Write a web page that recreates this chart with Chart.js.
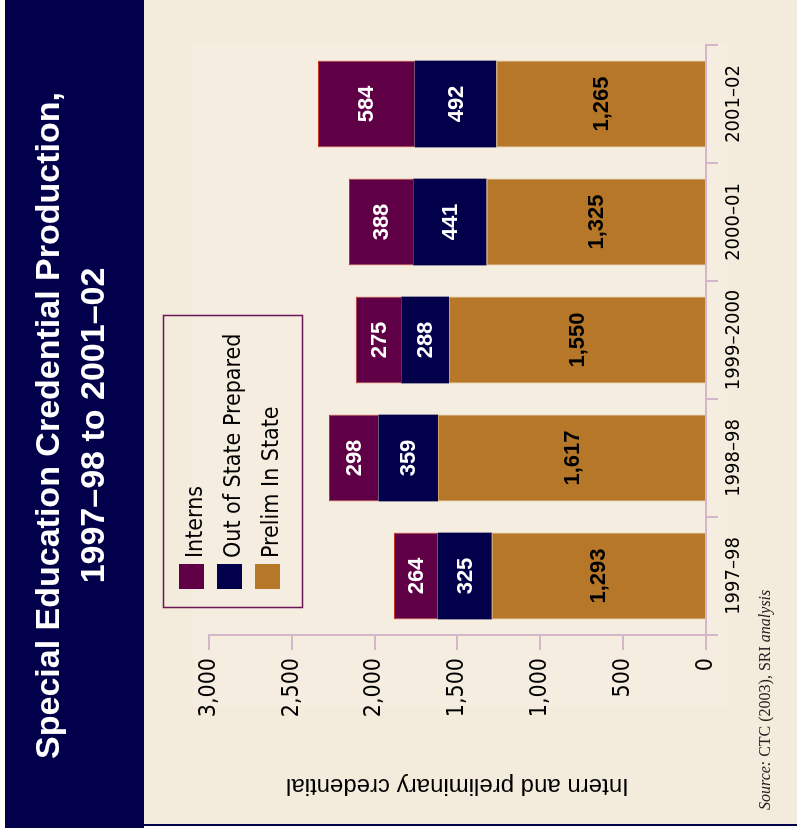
<!DOCTYPE html>
<html>
<head>
<meta charset="utf-8">
<script src="https://cdn.jsdelivr.net/npm/chart.js@4.4.1/dist/chart.umd.min.js"></script>
<style>
  html, body { margin: 0; padding: 0; background: #fff; }
  /* the chart is drawn upright and then turned a quarter turn, like the reference */
  #wrap {
    position: absolute; left: 0; top: 0;
    width: 836px; height: 797px;
    transform-origin: 0 0;
    transform: translateY(836px) rotate(-90deg);
  }
</style>
</head>
<body>
<div id="wrap"><canvas id="chart" width="836" height="797"></canvas></div>
<script>
// data
const years = ['1997\u201398', '1998\u201398', '1999\u20132000', '2000\u201301', '2001\u201302'];
const prelimInState = [1293, 1617, 1550, 1325, 1265];
const outOfState = [325, 359, 288, 441, 492];
const interns = [264, 298, 275, 388, 584];
const yTicks = [0, 500, 1000, 1500, 2000, 2500, 3000];

const NAVY = '#03004b';
const PURPLE = '#5f0047';
const ORANGE = '#b67828';
const BEIGE = '#f3ebdb';
const AXIS = '#d3b6ca';
const NARROW = "'Liberation Sans Narrow', 'Arial Narrow', 'DejaVu Sans Condensed', sans-serif";
const SANS = "'Liberation Sans', Arial, sans-serif";

// backgrounds: page, beige panel, navy title band
const background = {
    id: 'background',
    beforeDraw(chart) {
        const ctx = chart.ctx;
        ctx.save();
        ctx.fillStyle = '#ffffff';
        ctx.fillRect(0, 0, chart.width, chart.height);
        ctx.fillStyle = BEIGE;
        ctx.fillRect(11, 144, chart.width - 11, chart.height - 144);
        ctx.fillStyle = '#f4ede0';
        ctx.fillRect(129, 193, 664, 535);
        ctx.fillStyle = NAVY;
        ctx.fillRect(8, 5, chart.width - 8, 139);
        ctx.fillRect(10, 144, 2, chart.height - 144);
        ctx.restore();
    }
};

// numbers inside each bar segment
const segmentLabels = {
    id: 'segmentLabels',
    afterDatasetsDraw(chart) {
        const ctx = chart.ctx;
        ctx.save();
        ctx.font = 'bold 22px ' + SANS;
        ctx.textAlign = 'center';
        ctx.textBaseline = 'middle';
        chart.data.datasets.forEach((ds, i) => {
            chart.getDatasetMeta(i).data.forEach((bar, j) => {
                ctx.fillStyle = ds.backgroundColor === ORANGE ? '#000000' : '#ffffff';
                ctx.fillText(ds.data[j].toLocaleString('en-US'), bar.x, (bar.y + bar.base) / 2 + 1);
            });
        });
        ctx.restore();
    }
};

// boxed legend in the upper left of the plot, Interns first
const boxLegend = {
    id: 'boxLegend',
    afterDraw(chart) {
        const ctx = chart.ctx;
        ctx.save();
        ctx.strokeStyle = '#6b1656';
        ctx.lineWidth = 1.5;
        ctx.strokeRect(228.5, 163.5, 292, 139);
        ctx.font = '23px ' + NARROW;
        ctx.textAlign = 'left';
        ctx.textBaseline = 'alphabetic';
        const items = chart.data.datasets.slice().reverse();
        items.forEach((ds, k) => {
            const top = 179 + k * 38;
            ctx.fillStyle = ds.backgroundColor;
            ctx.fillRect(247, top, 25, 25);
            ctx.fillStyle = '#000000';
            ctx.fillText(ds.label, 278, top + 23);
        });
        ctx.restore();
    }
};

// source line at the foot
const sourceNote = {
    id: 'sourceNote',
    afterDraw(chart) {
        const ctx = chart.ctx;
        ctx.save();
        ctx.fillStyle = '#222222';
        ctx.textBaseline = 'middle';
        let x = 26;
        const y = 766;
        [['italic', 'Source:'], ['normal', ' CTC (2003), SRI '], ['italic', 'analysis']].forEach(([style, txt]) => {
            ctx.font = style + " 16px 'Liberation Serif', 'Times New Roman', serif";
            ctx.fillText(txt, x, y);
            x += ctx.measureText(txt).width;
        });
        ctx.restore();
    }
};

new Chart(document.getElementById('chart'), {
    type: 'bar',
    data: {
        labels: years,
        datasets: [
            { label: 'Prelim In State', data: prelimInState, backgroundColor: ORANGE, borderColor: '#cf9f66', borderWidth: 1 },
            { label: 'Out of State Prepared', data: outOfState, backgroundColor: NAVY, borderWidth: 0 },
            { label: 'Interns', data: interns, backgroundColor: PURPLE, borderColor: '#c2342a', borderWidth: 1 }
        ]
    },
    options: {
        responsive: false,
        animation: false,
        layout: { padding: { top: 10, left: 30, right: 45, bottom: 41 } },
        datasets: { bar: { categoryPercentage: 1, barPercentage: 0.735 } },
        plugins: {
            legend: { display: false },
            tooltip: { enabled: false },
            title: {
                display: true,
                text: ['Special Education Credential Production,', '1997\u201398 to 2001\u201302'],
                color: '#ffffff',
                font: { family: SANS, size: 34, weight: 'bold', lineHeight: 1.32 },
                padding: { top: 17.5, bottom: 91.5 }
            }
        },
        scales: {
            x: {
                stacked: true,
                afterFit: s => { s.height = 50; },
                grid: { drawOnChartArea: false, tickLength: 12, color: AXIS, lineWidth: 2 },
                border: { color: AXIS, width: 2 },
                ticks: { color: '#000000', padding: 4, font: { family: NARROW, size: 20 } }
            },
            y: {
                stacked: true,
                min: 0,
                max: 3000,
                afterFit: s => { s.width = 171; },
                afterBuildTicks: s => { s.ticks = yTicks.map(v => ({ value: v })); },
                grid: { drawOnChartArea: false, tickLength: 15, color: AXIS, lineWidth: 2 },
                border: { color: AXIS, width: 2 },
                ticks: {
                    color: '#000000',
                    padding: 8,
                    font: { family: NARROW, size: 23 },
                    callback: v => v.toLocaleString('en-US')
                },
                title: {
                    display: true,
                    text: 'Intern and preliminary credential',
                    color: '#000000',
                    font: { family: SANS, size: 24 },
                    padding: { top: 6, bottom: 0 }
                }
            }
        }
    },
    plugins: [background, segmentLabels, boxLegend, sourceNote]
});
</script>
</body>
</html>
